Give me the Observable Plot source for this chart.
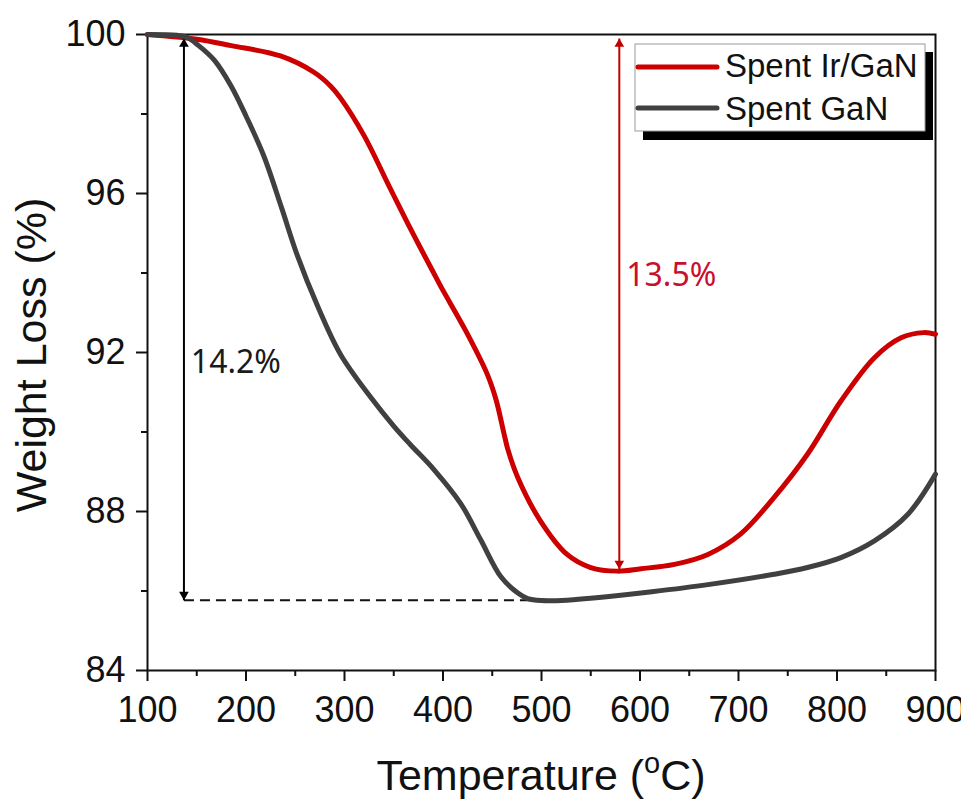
<!DOCTYPE html>
<html><head><meta charset="utf-8">
<script src="https://cdn.jsdelivr.net/npm/d3@7"></script>
<script src="https://cdn.jsdelivr.net/npm/@observablehq/plot@0.6"></script>
<style>body{margin:0;background:#fff}#chart{width:961px;height:801px}</style>
</head><body><div id="chart"></div>
<script>
// Spent GaN (gray)
const grayT = [100,130,140,151,168,185,200,218,236,252,273,296,327,350,367,391,418,438,459,476,486,500,526,561,612,669,736,770,804,838,872,900];
const grayW = [100,99.98,99.93,99.74,99.35,98.7,97.95,96.95,95.65,94.45,93.15,91.95,90.86,90.15,89.68,89.05,88.2,87.3,86.35,85.95,85.81,85.76,85.77,85.84,85.98,86.16,86.42,86.59,86.84,87.26,87.93,88.94];
// Spent Ir/GaN (red)
const redT = [100,150,185,235,269,286,296,320,344,354,371,388,398,423,445,454,462,466,476,499,526,550,577,601,635,669,702,736,770,804,838,865,888,900];
const redW = [100,99.88,99.72,99.46,99.05,98.7,98.4,97.45,96.25,95.75,94.92,94.12,93.65,92.55,91.45,90.8,89.95,89.55,88.85,87.76,86.92,86.59,86.5,86.56,86.67,86.92,87.43,88.35,89.44,90.78,91.87,92.37,92.5,92.46];

const seriesNames = ["Spent Ir/GaN", "Spent GaN"];
const seriesColors = ["#cc0000", "#404040"];
const xTicks = [100,200,300,400,500,600,700,800,900];
const xMinor = [150,250,350,450,550,650,750,850];
const yTicks = [84,88,92,96,100];
const yMinor = [86,90,94,98];

// annotations: double arrows (temperature, top, bottom), dashed baseline, labels
const arrowT = [137, 579];
const arrowTop = [99.9, 99.9];
const arrowBottom = [85.77, 86.55];
const arrowColors = ["#000000", "#c00000"];
const dashT = [137, 530];
const dashW = [85.77];
const labelText = ["14.2%", "13.5%"];
const labelT = [144, 586];
const labelW = [91.74, 93.94];
const labelColors = ["#1a1a1a", "#c8102e"];

const data = [
  ...redT.map((t, i) => ({T: t, W: redW[i], s: seriesNames[0]})),
  ...grayT.map((t, i) => ({T: t, W: grayW[i], s: seriesNames[1]}))
];
const arrows = arrowT.map((t, i) => ({T: t, top: arrowTop[i], bottom: arrowBottom[i], c: arrowColors[i]}));
const labels = labelText.map((s, i) => ({s, T: labelT[i], W: labelW[i], c: labelColors[i]}));
const dash = [{T1: dashT[0], T2: dashT[1], W: dashW[0]}];

const plot = Plot.plot({
  width: 961, height: 801,
  marginLeft: 147, marginRight: 26, marginTop: 34, marginBottom: 131,
  x: {domain: [100, 900]},
  y: {domain: [84, 100]},
  color: {domain: seriesNames, range: seriesColors},
  style: {fontFamily: "'Liberation Sans', Arial, sans-serif", background: "white", color: "#111"},
  marks: [
    Plot.axisX(xMinor, {tickSize: 6, tickFormat: () => "", strokeWidth: 2, label: null}),
    Plot.axisX(xTicks, {tickSize: 11, tickPadding: 15, fontSize: 36, strokeWidth: 2, label: null}),
    Plot.axisY(yMinor, {tickSize: 6, tickFormat: () => "", strokeWidth: 2, label: null}),
    Plot.axisY(yTicks, {tickSize: 11, tickPadding: 11, fontSize: 36, strokeWidth: 2, label: null}),
    Plot.frame({stroke: "#111", strokeWidth: 2}),
    Plot.link(dash, {x1: "T1", x2: "T2", y1: "W", y2: "W", stroke: "#111", strokeWidth: 2, strokeDasharray: "10,6"}),
    Plot.link(arrows, {x1: "T", x2: "T", y1: "top", y2: "bottom", stroke: "c", strokeWidth: 2}),
    Plot.line(data, {x: "T", y: "W", stroke: "s", strokeWidth: 5, curve: "catmull-rom"}),
    Plot.dot(arrows, {x: "T", y: "top", symbol: "triangle", r: 3.6, fill: "c", stroke: "none", dy: 5.5}),
    Plot.dot(arrows, {x: "T", y: "bottom", symbol: "triangle", r: 3.6, fill: "c", stroke: "none", rotate: 180, dy: -5.5}),
    Plot.text(labels, {x: "T", y: "W", text: "s", fill: "c", textAnchor: "start", fontSize: 32, fontFamily: "'Noto Sans', 'Open Sans', sans-serif"})
  ]
});
document.getElementById("chart").appendChild(plot);

const svg = d3.select(plot);
const ff = "'Liberation Sans', Arial, sans-serif";
// axis titles
const xt = svg.append("text").attr("x", 541).attr("y", 790).attr("text-anchor", "middle")
  .attr("font-size", 43).attr("fill", "#111").attr("font-family", ff);
xt.append("tspan").text("Temperature (");
xt.append("tspan").attr("font-size", 29).attr("dy", -17).text("o");
xt.append("tspan").attr("dy", 17).text("C)");
svg.append("text").attr("transform", "translate(46,355) rotate(-90)").attr("text-anchor", "middle")
  .attr("font-size", 43).attr("fill", "#111").attr("font-family", ff)
  .text("Weight Loss (%)");

// legend
const lg = svg.append("g").attr("font-family", ff).attr("text-anchor", "start");
lg.append("rect").attr("x", 643).attr("y", 52).attr("width", 290).attr("height", 88).attr("fill", "#000");
lg.append("rect").attr("x", 635).attr("y", 44).attr("width", 290).attr("height", 87).attr("fill", "#fff").attr("stroke", "#999").attr("stroke-width", 1);
const ly = [67, 108];
const lb = [77, 120];
seriesNames.forEach((n, i) => {
  lg.append("line").attr("x1", 638).attr("x2", 717).attr("y1", ly[i]).attr("y2", ly[i])
    .attr("stroke", seriesColors[i]).attr("stroke-width", 5).attr("stroke-linecap", "round");
  lg.append("text").attr("x", 725).attr("y", lb[i]).attr("font-size", 33).attr("fill", "#111")
    .attr("text-anchor", "start").text(n);
});
</script>
</body></html>
